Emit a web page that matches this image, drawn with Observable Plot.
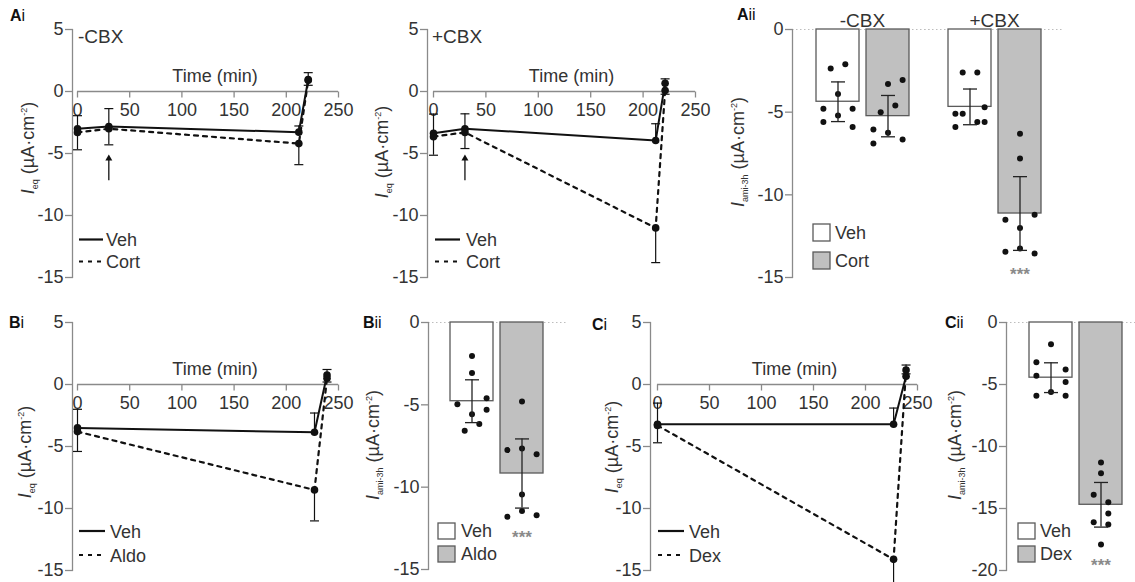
<!DOCTYPE html>
<html><head><meta charset="utf-8">
<script src="https://cdn.jsdelivr.net/npm/d3@7"></script>
<script src="https://cdn.jsdelivr.net/npm/@observablehq/plot@0.6"></script>
<style>
body{margin:0;background:#fff;}
#fig{position:relative;width:1135px;height:582px;overflow:hidden;background:#fff;font-family:"Liberation Sans",Arial,Helvetica,sans-serif;}
.panel{position:absolute;}
#overlay{position:absolute;left:0;top:0;pointer-events:none;}
</style></head>
<body><div id="fig"></div>
<script>
// ---------------- DATA ----------------
const xTicks = [0, 50, 100, 150, 200, 250];
const yTicksTime = [5, 0, -5, -10, -15];
const yTicksBar15 = [0, -5, -10, -15];
const yTicksBar20 = [0, -5, -10, -15, -20];
const xLabel = "Time (min)";

// Ai  -CBX / +CBX  time course (mean, SEM)
const aiTimes = [0, 30, 212, 221];
const aiNoCbxVeh = [-3.0, -2.83, -3.28, 0.97];
const aiNoCbxVehSem = [1.05, 1.45, 0.5, 0.55];
const aiNoCbxCort = [-3.3, -3.0, -4.2, 0.9];
const aiNoCbxCortSem = [1.4, 1.3, 1.7, 0.4];
const aiCbxVeh = [-3.37, -3.0, -3.95, 0.67];
const aiCbxVehSem = [1.55, 1.2, 1.35, 0.35];
const aiCbxCort = [-3.64, -3.3, -11.0, 0.08];
const aiCbxCortSem = [1.5, 1.3, 2.8, 0.3];
const treatmentArrow = {time: 30, from: -7.2, to: -5.4};

// Aii bars
const aiiConds = ["-CBX", "+CBX"];
const aiiGroups = ["Veh", "Cort"];
const aiiMeans = [-4.37, -5.24, -4.68, -11.13];   // -CBX Veh, -CBX Cort, +CBX Veh, +CBX Cort
const aiiSems = [1.2, 1.25, 1.08, 2.23];
const aiiNoCbxVehPts = [-2.36, -2.1, -3.9, -4.8, -4.8, -5.2, -5.6, -5.9];
const aiiNoCbxVehCols = [-1, 1, 0, -2, 2, 0, -2, 2];
const aiiNoCbxCortPts = [-3.06, -3.3, -5.0, -4.6, -6.05, -6.25, -6.9, -6.65];
const aiiNoCbxCortCols = [2, 0, -1, 1, -2, 0, -2, 2];
const aiiCbxVehPts = [-2.6, -2.6, -5.1, -5.1, -4.7, -5.9, -5.6, -5.6];
const aiiCbxVehCols = [-1, 1, -2, -1, 2, -2, 1, 2];
const aiiCbxCortPts = [-6.3, -7.8, -11.5, -11.2, -12.0, -13.25, -13.45, -13.55];
const aiiCbxCortCols = [0, 0, -2, 2, 0, 0, -2, 2];

// Bi time course
const biTimes = [0, 227, 239];
const biVeh = [-3.5, -3.85, 0.76];
const biVehSem = [1.5, 1.55, 0.45];
const biAldo = [-3.8, -8.5, 0.5];
const biAldoSem = [1.6, 2.5, 0.3];

// Bii bars
const biiGroups = ["Veh", "Aldo"];
const biiMeans = [-4.78, -9.17];
const biiSems = [1.3, 2.1];
const biiVehPts = [-2.04, -3.06, -4.96, -4.6, -5.3, -5.57, -6.17, -6.58];
const biiVehCols = [0, 0, -2, 2, 2, 0, 1, -1];
const biiAldoPts = [-4.8, -7.75, -7.65, -8.0, -10.45, -11.44, -11.8, -11.7];
const biiAldoCols = [0, -2, 0, 2, 0, 0, -2, 2];

// Ci time course
const ciTimes = [0, 227, 239];
const ciVeh = [-3.2, -3.2, 0.67];
const ciVehSem = [1.7, 1.3, 0.9];
const ciDex = [-3.3, -14.1, 1.16];
const ciDexSem = [1.4, 2.6, 0.3];

// Cii bars
const ciiGroups = ["Veh", "Dex"];
const ciiMeans = [-4.45, -14.7];
const ciiSems = [1.2, 1.8];
const ciiVehPts = [-1.75, -3.2, -3.8, -4.3, -4.8, -5.6, -5.9, -5.9];
const ciiVehCols = [0, -2, 2, -2, 2, 0, -2, 2];
const ciiDexPts = [-11.3, -12.15, -13.9, -14.5, -15.4, -16.1, -16.3, -17.9];
const ciiDexCols = [0, 0, -1, 1, 1, -1, 1, 0];

// ---------------- STYLE ----------------
const FONT = '"Liberation Sans", Arial, Helvetica, sans-serif';
const AXIS = "#8a8a8a";
const TEXT = "#333";
const INK = "#111";
const GREY = "#c0c0c0";
const BAR_STROKE = "#5a5a5a";
const COL = 7.3;
const DASH = "4,5";
const FS = 18;
const fmt = d => String(d);

const tickDown = {draw(ctx, size) { const r = Math.sqrt(size / Math.PI); ctx.moveTo(0, 0); ctx.lineTo(0, r); }};
const hcap = {draw(ctx, size) { const r = Math.sqrt(size / Math.PI); ctx.moveTo(-r, 0); ctx.lineTo(r, 0); }};

const fig = document.getElementById("fig");
function place(node, left, top, w, h) {
  const d = document.createElement("div");
  d.className = "panel";
  d.style.left = left + "px"; d.style.top = top + "px";
  d.style.width = w + "px"; d.style.height = h + "px";
  d.appendChild(node);
  fig.appendChild(d);
}
const baseStyle = {fontFamily: FONT, fontSize: FS + "px", color: TEXT, background: "transparent", overflow: "visible"};

function timePanel(c) {
  const vehRows = c.times.map((t, i) => ({t, v: c.veh[i], end: c.veh[i] + c.vehSem[i]}));
  const trtRows = c.times.map((t, i) => ({t, v: c.trt[i], end: c.trt[i] - c.trtSem[i]}));
  const all = vehRows.concat(trtRows);
  const xDom = [xTicks[0], xTicks[xTicks.length - 1]];
  const marks = [
    Plot.frame({anchor: "left", stroke: AXIS, strokeWidth: 1.3}),
    Plot.axisY({ticks: yTicksTime, tickSize: 7, tickPadding: 2, tickFormat: fmt, stroke: AXIS, fill: TEXT, strokeWidth: 1.3, fontSize: FS, label: null}),
    Plot.ruleY([0], {x1: xDom[0], x2: xDom[1], stroke: AXIS, strokeWidth: 1.3}),
    Plot.dot(xTicks, {x: d => d, y: 0, symbol: tickDown, r: 6, stroke: AXIS, strokeWidth: 1.3, fill: "none"}),
    Plot.text(xTicks, {x: d => d, y: 0, dy: 19, text: fmt, fill: TEXT, fontSize: FS}),
    Plot.text([xLabel], {x: (xDom[0] + xDom[1]) / 2, y: 0, dx: 7, dy: -15, text: d => d, fill: TEXT, fontSize: FS}),
    Plot.ruleX(all, {x: "t", y1: "v", y2: "end", stroke: INK, strokeWidth: 1.2}),
    Plot.dot(all, {x: "t", y: "end", symbol: hcap, r: 4.5, stroke: INK, strokeWidth: 1.2, fill: "none"}),
    Plot.line(vehRows, {x: "t", y: "v", stroke: INK, strokeWidth: 2}),
    Plot.line(trtRows, {x: "t", y: "v", stroke: INK, strokeWidth: 2.2, strokeDasharray: DASH}),
    Plot.dot(all, {x: "t", y: "v", r: 3.8, fill: INK})
  ];
  if (c.arrow) {
    marks.push(Plot.ruleX([c.arrow], {x: "time", y1: "from", y2: "to", stroke: INK, strokeWidth: 1.3}));
    marks.push(Plot.dot([c.arrow], {x: "time", y: "to", symbol: "triangle", r: 2.6, fill: INK}));
  }
  const svg = Plot.plot({
    width: c.w, height: c.h, marginLeft: c.ml, marginRight: c.mr, marginTop: c.mt, marginBottom: c.mb,
    style: baseStyle,
    x: {domain: xDom, insetLeft: c.il, axis: null},
    y: {domain: [yTicksTime[yTicksTime.length - 1], yTicksTime[0]], axis: null},
    marks
  });
  place(svg, c.left, c.top, c.w, c.h);
}

function barPanel(c) {
  // c.bars: [{cond, treat, mean, sem}], c.pts: [{cond, treat, v, col}]
  const fxOpt = c.facets ? {fx: "cond"} : {};
  const caps = c.bars.flatMap(b => [{...b, y: b.mean - b.sem}, {...b, y: b.mean + b.sem}]);
  const sig = c.bars.filter(b => b.sig).map(b => ({...b, v: d3.min(c.pts.filter(p => p.cond === b.cond && p.treat === b.treat), p => p.v)}));
  const yT = c.yTicks;
  const marks = [
    Plot.ruleY([0], {stroke: "#bdbdbd", strokeDasharray: "1.5,2.5", strokeWidth: 1.2, insetRight: c.lineExt || 0}),
    Plot.frame({anchor: "left", facetAnchor: "left", stroke: AXIS, strokeWidth: 1.3}),
    Plot.axisY({ticks: yT, tickSize: 7, tickPadding: 2, tickFormat: fmt, stroke: AXIS, fill: TEXT, strokeWidth: 1.3, fontSize: FS, label: null}),
    Plot.barY(c.bars, {...fxOpt, x: "treat", y1: 0, y2: "mean", fill: "treat", stroke: BAR_STROKE, strokeWidth: 1.3}),
    ...[-2, -1, 0, 1, 2].map(k => Plot.dot(c.pts.filter(p => p.col === k), {...fxOpt, x: "treat", y: "v", dx: k * COL, r: 3, fill: INK})),
    Plot.ruleX(c.bars, {...fxOpt, x: "treat", y1: d => d.mean - d.sem, y2: d => d.mean + d.sem, stroke: "#222", strokeWidth: 1.3}),
    Plot.dot(caps, {...fxOpt, x: "treat", y: "y", symbol: hcap, r: 7, stroke: "#222", strokeWidth: 1.3, fill: "none"}),
    Plot.text(sig, {...fxOpt, x: "treat", y: "v", dy: 21, text: () => "***", fill: "#8a8a8a", fontSize: 17, fontWeight: "bold"})
  ];
  if (c.facets) marks.push(Plot.axisFx({anchor: "top", tickSize: 0, tickPadding: 3, label: null, fontSize: 19, fill: TEXT, dx: 4}));
  const opts = {
    width: c.w, height: c.h, marginLeft: c.ml, marginRight: c.mr, marginTop: c.mt, marginBottom: c.mb,
    style: baseStyle,
    x: {domain: c.groups, paddingInner: 0.14, paddingOuter: 0, insetLeft: c.il, insetRight: c.ir, axis: null},
    y: {domain: [yT[yT.length - 1], 0], axis: null},
    color: {type: "ordinal", domain: c.groups, range: ["#ffffff", GREY]},
    marks
  };
  if (c.facets) opts.fx = {domain: c.facets, padding: 0, axis: null};
  place(Plot.plot(opts), c.left, c.top, c.w, c.h);
}

function ptsOf(cond, treat, vals, cols) { return vals.map((v, i) => ({cond, treat, v, col: cols[i]})); }

// ---------------- PANELS ----------------
timePanel({times: aiTimes, veh: aiNoCbxVeh, vehSem: aiNoCbxVehSem, trt: aiNoCbxCort, trtSem: aiNoCbxCortSem,
  arrow: treatmentArrow, left: 0, top: 0, w: 360, h: 290, ml: 72, il: 5, mr: 22, mt: 29, mb: 13});
timePanel({times: aiTimes, veh: aiCbxVeh, vehSem: aiCbxVehSem, trt: aiCbxCort, trtSem: aiCbxCortSem,
  arrow: treatmentArrow, left: 350, top: 0, w: 360, h: 290, ml: 77, il: 6, mr: 15, mt: 29, mb: 13});

barPanel({
  facets: aiiConds, groups: aiiGroups, yTicks: yTicksBar15,
  bars: [
    {cond: aiiConds[0], treat: aiiGroups[0], mean: aiiMeans[0], sem: aiiSems[0]},
    {cond: aiiConds[0], treat: aiiGroups[1], mean: aiiMeans[1], sem: aiiSems[1]},
    {cond: aiiConds[1], treat: aiiGroups[0], mean: aiiMeans[2], sem: aiiSems[2]},
    {cond: aiiConds[1], treat: aiiGroups[1], mean: aiiMeans[3], sem: aiiSems[3], sig: true}
  ],
  pts: [
    ...ptsOf(aiiConds[0], aiiGroups[0], aiiNoCbxVehPts, aiiNoCbxVehCols),
    ...ptsOf(aiiConds[0], aiiGroups[1], aiiNoCbxCortPts, aiiNoCbxCortCols),
    ...ptsOf(aiiConds[1], aiiGroups[0], aiiCbxVehPts, aiiCbxVehCols),
    ...ptsOf(aiiConds[1], aiiGroups[1], aiiCbxCortPts, aiiCbxCortCols)
  ],
  left: 720, top: 0, w: 415, h: 290, ml: 72, mr: 79, mt: 29, mb: 13, il: 23, ir: 15, lineExt: -7
});

timePanel({times: biTimes, veh: biVeh, vehSem: biVehSem, trt: biAldo, trtSem: biAldoSem,
  left: 0, top: 290, w: 360, h: 292, ml: 72, il: 5, mr: 22, mt: 32, mb: 12});

barPanel({
  groups: biiGroups, yTicks: yTicksBar15,
  bars: [
    {cond: "B", treat: biiGroups[0], mean: biiMeans[0], sem: biiSems[0]},
    {cond: "B", treat: biiGroups[1], mean: biiMeans[1], sem: biiSems[1], sig: true}
  ],
  pts: [...ptsOf("B", biiGroups[0], biiVehPts, biiVehCols), ...ptsOf("B", biiGroups[1], biiAldoPts, biiAldoCols)],
  left: 370, top: 290, w: 220, h: 292, ml: 58, mr: 23, mt: 32, mb: 13, il: 21, ir: 24
});

timePanel({times: ciTimes, veh: ciVeh, vehSem: ciVehSem, trt: ciDex, trtSem: ciDexSem,
  left: 580, top: 290, w: 360, h: 292, ml: 70, il: 7, mr: 23, mt: 32, mb: 12});

barPanel({
  groups: ciiGroups, yTicks: yTicksBar20,
  bars: [
    {cond: "C", treat: ciiGroups[0], mean: ciiMeans[0], sem: ciiSems[0]},
    {cond: "C", treat: ciiGroups[1], mean: ciiMeans[1], sem: ciiSems[1], sig: true}
  ],
  pts: [...ptsOf("C", ciiGroups[0], ciiVehPts, ciiVehCols), ...ptsOf("C", ciiGroups[1], ciiDexPts, ciiDexCols)],
  left: 920, top: 290, w: 215, h: 292, ml: 86, mr: 0, mt: 32, mb: 12, il: 22, ir: 13
});

// ---------------- LABELS & LEGENDS (overlay) ----------------
const ov = d3.select(fig).append("svg").attr("id", "overlay").attr("width", 1135).attr("height", 582)
  .style("font-family", FONT).attr("fill", TEXT);

function panelLabel(x, y, letter, roman) {
  const t = ov.append("text").attr("x", x).attr("y", y).attr("font-size", 16).attr("fill", "#111");
  t.append("tspan").attr("font-weight", "bold").text(letter);
  t.append("tspan").text(roman);
}
panelLabel(10, 21, "A", "i");
panelLabel(737, 20, "A", "ii");
panelLabel(9, 328, "B", "i");
panelLabel(363, 328, "B", "ii");
panelLabel(592, 330, "C", "i");
panelLabel(945, 328, "C", "ii");

ov.append("text").attr("x", 78).attr("y", 43).attr("font-size", 19).text("-CBX");
ov.append("text").attr("x", 432).attr("y", 43).attr("font-size", 19).text("+CBX");

function yLabel(cx, cy, sub) {
  const t = ov.append("text").attr("transform", `translate(${cx},${cy}) rotate(-90)`)
    .attr("text-anchor", "middle").attr("font-size", 18).attr("y", 6);
  t.append("tspan").attr("font-style", "italic").text("I");
  t.append("tspan").attr("font-size", 9).attr("dy", 4).text(sub);
  t.append("tspan").attr("dy", -4).text(" (µA·cm");
  t.append("tspan").attr("font-size", 9).attr("dy", -7).text("-2");
  t.append("tspan").attr("dy", 7).text(")");
}
yLabel(28, 148, "eq");
yLabel(382, 152, "eq");
yLabel(738, 152, "ami-3h");
yLabel(25, 452, "eq");
yLabel(373, 445, "ami-3h");
yLabel(612, 447, "eq");
yLabel(955, 445, "ami-3h");

function lineLegend(x1, x2, tx, items) {
  items.forEach(([label, y, dashed]) => {
    ov.append("line").attr("x1", x1).attr("x2", x2).attr("y1", y).attr("y2", y)
      .attr("stroke", INK).attr("stroke-width", 2.2).attr("stroke-dasharray", dashed ? DASH : null);
    ov.append("text").attr("x", tx).attr("y", y + 6.5).attr("font-size", 18).text(label);
  });
}
lineLegend(79, 103, 106, [["Veh", 239.5, false], ["Cort", 261.5, true]]);
lineLegend(435, 460, 466, [["Veh", 239.5, false], ["Cort", 261.5, true]]);
lineLegend(79, 105, 110, [["Veh", 531, false], ["Aldo", 555, true]]);
lineLegend(658, 684, 689, [["Veh", 531, false], ["Dex", 555, true]]);

function boxLegend(x, tx, items) {
  items.forEach(([label, y, h, fill]) => {
    ov.append("rect").attr("x", x).attr("y", y).attr("width", 17).attr("height", h)
      .attr("fill", fill).attr("stroke", BAR_STROKE).attr("stroke-width", 1.3);
    ov.append("text").attr("x", tx).attr("y", y + h - 2).attr("font-size", 18).text(label);
  });
}
boxLegend(813, 835, [["Veh", 224, 17, "#fff"], ["Cort", 252, 17, GREY]]);
boxLegend(438, 461, [["Veh", 523, 16, "#fff"], ["Aldo", 546, 16, GREY]]);
boxLegend(1018, 1040, [["Veh", 523, 16, "#fff"], ["Dex", 546, 16, GREY]]);
</script>
</body></html>
